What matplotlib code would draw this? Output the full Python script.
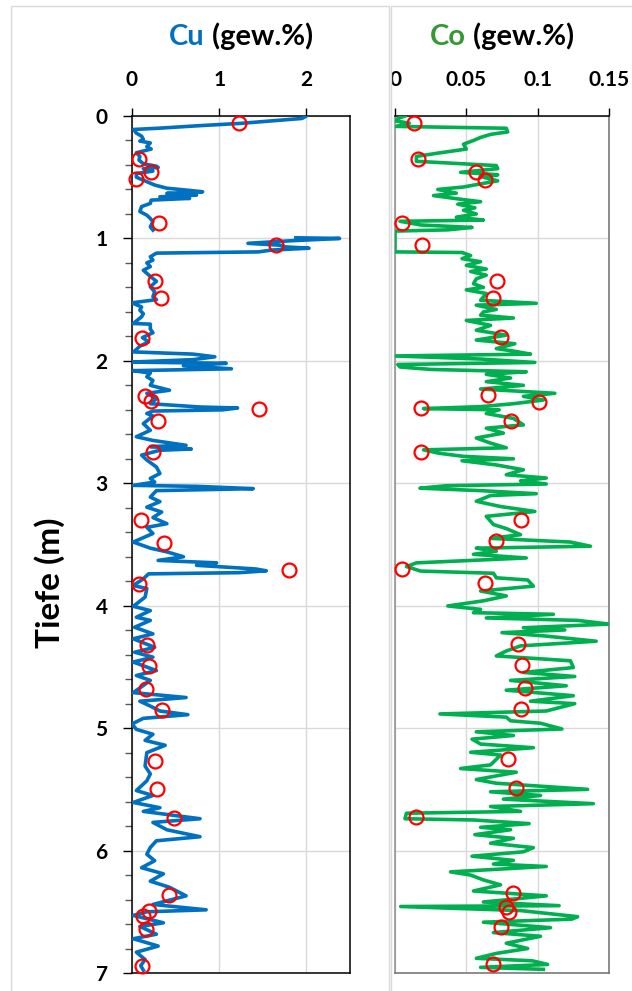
import numpy as np
import matplotlib.pyplot as plt
from matplotlib.lines import Line2D
from matplotlib.patches import Rectangle
from matplotlib.ticker import MultipleLocator

plt.rcParams['font.family'] = ['Lato', 'DejaVu Sans']
plt.rcParams['font.weight'] = 'bold'

# Cu log (depth in m, Cu in gew.%); nan marks the data gap
cu_depth = [0.00, 0.02, 0.04, 0.06, 0.08, 0.10, 0.11, 0.14, 0.165, 0.19, 0.205, 0.22,
            0.25, 0.27, 0.30, 0.33, 0.36, 0.39, 0.41, 0.42, 0.43, 0.45, 0.47, 0.50,
            0.537, 0.564, 0.59, 0.605, 0.619, 0.632, 0.646, 0.66, 0.673, 0.687, 0.714,
            0.74, 0.78, 0.81, 0.837, 0.864, 0.905, 0.932, np.nan,
            0.995, 1.00, 1.02, 1.04, 1.055, 1.069, 1.08, 1.095, 1.11, 1.12, 1.15, 1.177,
            1.20, 1.23, 1.26, 1.285, 1.31, 1.35, 1.395, 1.436, 1.476, 1.50, 1.526, 1.56,
            1.586, 1.615, 1.64, 1.695, 1.70, 1.74, 1.77, 1.81, 1.845, 1.88, 1.927, 1.945,
            1.967, 1.99, 2.01, 2.02, 2.04, 2.065, 2.08, 2.10, 2.13, 2.16, 2.20, 2.24,
            2.265, 2.31, 2.35, 2.377, 2.385, 2.40, 2.41, 2.43, 2.45, 2.513, 2.567, 2.62,
            2.65, 2.69, 2.70, 2.72, 2.73, 2.77, 2.81, 2.867, 2.92, 2.96, 2.99, 3.017,
            3.025, 3.044, 3.05, 3.06, 3.113, 3.15, 3.195, 3.235, 3.28, 3.33, 3.36, 3.41,
            3.48, 3.53, 3.56, 3.60, 3.63, 3.65, 3.67, 3.70, 3.715, 3.73, 3.74, 3.78,
            3.835, 3.86, 3.93, 4.005, 4.04, 4.094, 4.12, 4.176, 4.23, 4.27, 4.34, 4.38,
            4.42, 4.46, 4.53, 4.57, 4.61, 4.71, 4.75, 4.78, 4.82, 4.86, 4.89, 4.92,
            4.966, 5.01, 5.05, 5.10, 5.14, 5.20, 5.31, 5.374, 5.43, 5.51, 5.55, 5.607,
            5.65, 5.68, 5.74, 5.77, 5.83, 5.887, 5.92, 5.975, 6.03, 6.083, 6.14, 6.19,
            6.25, 6.30, 6.37, 6.41, 6.44, 6.484, 6.50, 6.53, 6.59, 6.62, 6.683, 6.72,
            6.78, 6.83, 6.89, 6.94, 6.977]
cu_value = [2.00, 1.95, 1.60, 1.25, 0.75, 0.30, 0.02, 0.05, 0.11, 0.13, 0.09, 0.21,
            0.17, 0.22, 0.05, 0.09, 0.08, 0.13, 0.28, 0.30, 0.13, 0.24, 0.05, 0.05,
            0.17, 0.26, 0.40, 0.62, 0.81, 0.40, 0.74, 0.32, 0.66, 0.22, 0.21,
            0.11, 0.09, 0.17, 0.21, 0.24, 0.21, 0.24, np.nan,
            1.88, 2.38, 1.80, 1.33, 1.69, 1.76, 2.03, 1.60, 1.45, 0.28, 0.21, 0.24,
            0.17, 0.21, 0.13, 0.17, 0.21, 0.28, 0.21, 0.26, 0.24, 0.28, 0.00, 0.11,
            0.09, 0.13, 0.11, 0.015, 0.21, 0.21, 0.24, 0.12, 0.19, 0.09, 0.02, 0.70,
            0.95, 0.70, 0.00, 1.08, 0.59, 1.14, 0.015, 0.21, 0.17, 0.24, 0.21, 0.43,
            0.17, 0.28, 0.21, 0.78, 1.21, 1.04, 0.24, 0.17, 0.24, 0.13, 0.21, 0.05,
            0.24, 0.62, 0.21, 0.68, 0.32, 0.11, 0.17, 0.28, 0.32, 0.21, 0.26, 0.015,
            0.74, 1.39, 0.97, 0.28, 0.21, 0.32, 0.17, 0.34, 0.24, 0.40, 0.17, 0.24,
            0.015, 0.21, 0.40, 0.59, 0.30, 0.97, 0.74, 1.42, 1.54, 1.23, 0.19, 0.13,
            0.015, 0.17, 0.15, 0.015, 0.21, 0.05, 0.21, 0.03, 0.24, 0.015, 0.26, 0.03,
            0.24, 0.015, 0.28, 0.05, 0.21, 0.015, 0.62, 0.09, 0.21, 0.32, 0.64, 0.13,
            0.00, 0.05, 0.24, 0.15, 0.38, 0.17, 0.15, 0.21, 0.17, 0.05, 0.24, 0.015,
            0.32, 0.13, 0.78, 0.24, 0.40, 0.78, 0.28, 0.21, 0.17, 0.26, 0.11, 0.36,
            0.21, 0.43, 0.62, 0.40, 0.24, 0.85, 0.17, 0.015, 0.36, 0.09, 0.28, 0.015,
            0.30, 0.05, 0.15, 0.10, 0.13]

# Cu lab samples (red circles)
cu_sample_depth = [0.06, 0.354, 0.46, 0.515, 0.878, 1.055, 1.35, 1.49, 1.81, 2.285,
                   2.33, 2.39, 2.494, 2.745, 3.30, 3.49, 3.707, 3.82, 4.32, 4.49,
                   4.68, 4.85, 5.27, 5.495, 5.737, 6.36, 6.495, 6.536, 6.637, 6.94]
cu_sample_value = [1.23, 0.08, 0.22, 0.05, 0.31, 1.65, 0.26, 0.33, 0.12, 0.15,
                   0.22, 1.46, 0.30, 0.24, 0.10, 0.37, 1.80, 0.08, 0.17, 0.19,
                   0.16, 0.34, 0.26, 0.29, 0.48, 0.43, 0.19, 0.13, 0.16, 0.11]

# Co log (depth in m, Co in gew.%)
co_depth = [0.00, 0.02, 0.04, 0.058, 0.085, 0.10, 0.13, 0.15, 0.175, 0.20, 0.23, 0.27,
            0.30, 0.33, 0.37, 0.405, 0.43, 0.46, 0.48, 0.50, 0.53, 0.55, 0.58, 0.60,
            0.63, 0.65, 0.68, 0.70, 0.72, 0.75, 0.77, 0.80, 0.826, 0.85, 0.86, 0.89,
            0.91, 0.93, 0.94, 1.11, 1.115, 1.14, 1.165, 1.19, 1.22, 1.25, 1.27, 1.30,
            1.33, 1.37, 1.40, 1.42, 1.45, 1.505, 1.53, 1.545, 1.58, 1.60, 1.627, 1.65,
            1.67, 1.71, 1.75, 1.79, 1.83, 1.86, 1.90, 1.92, 1.945, 1.96, 1.985, 2.013,
            2.03, 2.05, 2.07, 2.089, 2.11, 2.14, 2.17, 2.20, 2.23, 2.265, 2.29, 2.32,
            2.35, 2.374, 2.39, 2.40, 2.43, 2.47, 2.523, 2.55, 2.59, 2.63, 2.672, 2.71,
            2.727, 2.755, 2.78, 2.80, 2.816, 2.85, 2.89, 2.93, 2.957, 2.98, 3.006, 3.02,
            3.04, 3.06, 3.085, 3.10, 3.147, 3.19, 3.23, 3.27, 3.337, 3.37, 3.42, 3.45,
            3.48, 3.514, 3.53, 3.555, 3.58, 3.61, 3.65, 3.68, 3.717, 3.735, 3.772, 3.79,
            3.84, 3.88, 3.92, 3.96, 4.002, 4.03, 4.057, 4.07, 4.10, 4.12, 4.15, 4.18,
            4.198, 4.22, 4.247, 4.29, 4.328, 4.37, 4.41, 4.45, 4.505, 4.545, 4.578, 4.61,
            4.654, 4.69, 4.735, 4.78, 4.80, 4.86, 4.884, 4.91, 4.94, 4.96, 5.007, 5.03,
            5.06, 5.09, 5.13, 5.16, 5.197, 5.22, 5.30, 5.33, 5.36, 5.39, 5.42, 5.45,
            5.50, 5.52, 5.55, 5.58, 5.617, 5.64, 5.68, 5.695, 5.74, 5.75, 5.78, 5.81,
            5.83, 5.87, 5.90, 5.94, 5.976, 6.01, 6.046, 6.08, 6.11, 6.13, 6.174, 6.20,
            6.24, 6.28, 6.33, 6.37, 6.42, 6.45, 6.457, 6.49, 6.54, 6.56, 6.585, 6.63,
            6.67, 6.70, 6.757, 6.80, 6.84, 6.88, 6.90, 6.93, 6.954, 6.97]
co_value = [0.007, 0.002, 0.000, 0.010, 0.001, 0.078, 0.079, 0.067, 0.060, 0.055, 0.048, 0.050,
            0.032, 0.015, 0.015, 0.071, 0.072, 0.046, 0.072, 0.062, 0.072, 0.062, 0.048, 0.030,
            0.043, 0.027, 0.046, 0.060, 0.044, 0.056, 0.048, 0.057, 0.043, 0.062, 0.0035, 0.018,
            0.054, 0.037, 0.000, 0.000, 0.047, 0.053, 0.047, 0.060, 0.050, 0.064, 0.053, 0.064,
            0.057, 0.055, 0.062, 0.050, 0.064, 0.060, 0.099, 0.057, 0.071, 0.062, 0.060, 0.083,
            0.050, 0.067, 0.057, 0.078, 0.057, 0.084, 0.071, 0.083, 0.095, 0.000, 0.060, 0.098,
            0.002, 0.0035, 0.025, 0.092, 0.064, 0.081, 0.064, 0.090, 0.060, 0.112, 0.090, 0.104,
            0.083, 0.060, 0.020, 0.073, 0.064, 0.083, 0.090, 0.064, 0.076, 0.057, 0.067, 0.078,
            0.020, 0.031, 0.048, 0.083, 0.047, 0.071, 0.090, 0.078, 0.106, 0.088, 0.106, 0.036,
            0.0175, 0.060, 0.099, 0.067, 0.057, 0.074, 0.098, 0.064, 0.069, 0.078, 0.088, 0.067,
            0.123, 0.137, 0.057, 0.071, 0.055, 0.092, 0.015, 0.008, 0.018, 0.069, 0.071, 0.093,
            0.097, 0.060, 0.078, 0.062, 0.037, 0.060, 0.055, 0.111, 0.064, 0.128, 0.150, 0.090,
            0.119, 0.075, 0.105, 0.141, 0.088, 0.078, 0.071, 0.123, 0.125, 0.090, 0.126, 0.081,
            0.120, 0.078, 0.125, 0.095, 0.126, 0.106, 0.0315, 0.078, 0.081, 0.102, 0.117, 0.057,
            0.083, 0.054, 0.060, 0.097, 0.053, 0.074, 0.067, 0.046, 0.085, 0.071, 0.057, 0.071,
            0.135, 0.067, 0.102, 0.076, 0.139, 0.067, 0.088, 0.008, 0.007, 0.055, 0.094, 0.060,
            0.081, 0.056, 0.083, 0.067, 0.097, 0.090, 0.054, 0.083, 0.069, 0.106, 0.039, 0.053,
            0.062, 0.074, 0.055, 0.106, 0.062, 0.115, 0.004, 0.088, 0.128, 0.124, 0.062, 0.109,
            0.069, 0.102, 0.078, 0.093, 0.071, 0.057, 0.096, 0.107, 0.060, 0.104]

# Co lab samples (red circles)
co_sample_depth = [0.058, 0.35, 0.46, 0.52, 0.873, 1.05, 1.348, 1.486, 1.806, 2.28,
                   2.333, 2.387, 2.49, 2.743, 3.297, 3.47, 3.70, 3.815, 4.31, 4.483,
                   4.673, 4.843, 5.25, 5.487, 5.726, 6.345, 6.457, 6.50, 6.625, 6.93]
co_sample_value = [0.0135, 0.016, 0.057, 0.063, 0.005, 0.019, 0.0715, 0.0685, 0.0745, 0.065,
                   0.101, 0.018, 0.081, 0.018, 0.088, 0.071, 0.005, 0.063, 0.086, 0.089,
                   0.091, 0.088, 0.079, 0.085, 0.015, 0.0825, 0.078, 0.080, 0.074, 0.0685]

cu_ticks = [0, 1, 2]
co_ticks = [0, 0.05, 0.1, 0.15]
co_ticklabels = ['0', '0.05', '0.1', '0.15']
depth_ticks = list(range(8))

CU_BLUE = '#0070C0'
CO_GREEN = '#00B050'
CO_TITLE = '#339933'
GRID = '#D9D9D9'

W, H = 632, 991
fig = plt.figure(figsize=(W / 100, H / 100), dpi=100)


def px_box(x0, y0, x1, y1):
    # figure-pixel box (top-left origin) -> add_axes rect
    return [x0 / W, 1 - y1 / H, (x1 - x0) / W, (y1 - y0) / H]


def px_line(xs, ys, **kw):
    fig.add_artist(Line2D([x / W for x in xs], [1 - y / H for y in ys],
                          transform=fig.transFigure, **kw))


# light chart-area frames
px_line([11, 11, 389, 389], [995, 6, 6, 995], color=GRID, lw=1)
px_line([391, 391, 640], [995, 6, 6], color=GRID, lw=1)

ax1 = fig.add_axes(px_box(132, 116, 350, 973))
ax2 = fig.add_axes(px_box(395, 116, 609, 973))

# --- Cu panel
ax1.plot(cu_value, cu_depth, color=CU_BLUE, lw=2.6, zorder=3)
ax1.plot(cu_sample_value, cu_sample_depth, 'o', mfc='none', mec='red', ms=10, mew=1.6,
         zorder=4, clip_on=False)
ax1.set_xlim(0, 2.5)
ax1.set_ylim(7, 0)
ax1.xaxis.tick_top()
ax1.set_xticks(cu_ticks)
ax1.set_yticks(depth_ticks)
ax1.yaxis.set_minor_locator(MultipleLocator(0.2))
ax1.tick_params(axis='x', which='major', direction='out', length=6, width=1,
                pad=13, labelsize=15)
ax1.tick_params(axis='y', which='major', direction='out', length=6.5, width=1,
                pad=11, labelsize=15)
ax1.tick_params(axis='y', which='minor', direction='out', length=5, width=1, color='#595959')
ax1.grid(True, which='major', color=GRID, lw=1)
ax1.set_axisbelow(True)
for s in ax1.spines.values():
    s.set_color('black')
    s.set_linewidth(1.1)

# --- Co panel
ax2.plot(co_value, co_depth, color=CO_GREEN, lw=2.6, zorder=3)
ax2.plot(co_sample_value, co_sample_depth, 'o', mfc='none', mec='red', ms=10, mew=1.6,
         zorder=4, clip_on=False)
ax2.set_xlim(0, 0.15)
ax2.set_ylim(7, 0)
ax2.xaxis.tick_top()
ax2.set_xticks(co_ticks)
ax2.set_xticklabels(co_ticklabels)
ax2.set_yticks(depth_ticks)
ax2.tick_params(axis='x', which='major', direction='out', length=6, width=1,
                pad=13, labelsize=15)
ax2.tick_params(axis='y', length=0, labelleft=False)
ax2.grid(True, which='major', color=GRID, lw=1)
ax2.set_axisbelow(True)
ax2.spines['top'].set_color('black')
ax2.spines['left'].set_color('#8C8C8C')
ax2.spines['right'].set_color('#6E6E6E')
ax2.spines['bottom'].set_color('#6E6E6E')
for s in ax2.spines.values():
    s.set_linewidth(1.1)

# the "0" of the Co axis is cut by the chart frame
clip = Rectangle((391 / W, 0), 1, 1, transform=fig.transFigure, visible=False)
fig.add_artist(clip)
for lbl in ax2.get_xticklabels():
    lbl.set_clip_path(clip)
    lbl.set_clip_on(True)

# axis titles, two-coloured
fig.text(50 / W, 1 - 583 / H, 'Tiefe (m)', rotation=90, fontsize=24,
         ha='center', va='center')


def two_color_title(xc, base, head, color):
    t1 = fig.text(0, 1 - base / H, head, color=color, fontsize=21, va='baseline')
    t2 = fig.text(0, 1 - base / H, ' (gew.%)', color='black', fontsize=21, va='baseline')
    fig.canvas.draw()
    r = fig.canvas.get_renderer()
    w1 = t1.get_window_extent(r).width
    w2 = t2.get_window_extent(r).width
    left = xc - (w1 + w2) / 2
    t1.set_x(left / W)
    t2.set_x((left + w1) / W)


two_color_title(241, 45, 'Cu', CU_BLUE)
two_color_title(502, 45, 'Co', CO_TITLE)

fig.savefig('out.png', dpi=100)
